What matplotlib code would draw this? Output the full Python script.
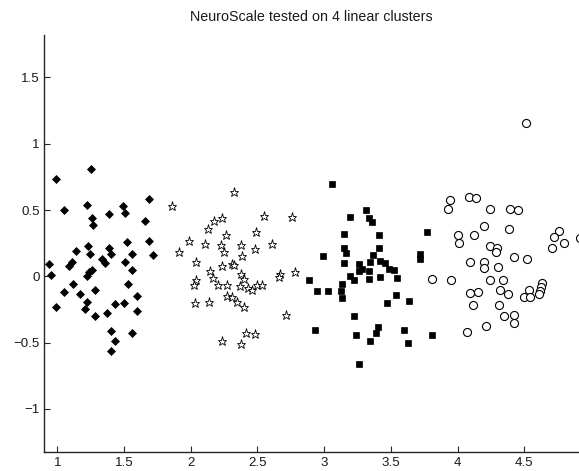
import matplotlib
matplotlib.use("Agg")
import matplotlib.pyplot as plt

plt.rcParams['font.family'] = ['Liberation Sans', 'DejaVu Sans']

title = "NeuroScale tested on 4 linear clusters"
x_ticks = [1, 1.5, 2, 2.5, 3, 3.5, 4, 4.5]
x_ticklabels = ["1", "1.5", "2", "2.5", "3", "3.5", "4", "4.5"]
y_ticks = [-1, -0.5, 0, 0.5, 1, 1.5]
y_ticklabels = ["\u22121", "\u22120.5", "0", "0.5", "1", "1.5"]

# Cluster 1: diamonds
diam_x = [0.99, 1.25, 1.05, 1.22, 1.26, 1.27, 1.385, 1.49, 1.51, 1.69, 1.655,
          0.935, 0.95, 0.99, 1.05, 1.115, 1.09, 1.11, 1.14, 1.17, 1.23, 1.245,
          1.22, 1.235, 1.26, 1.285, 1.22, 1.21, 1.28, 1.335, 1.355, 1.39, 1.40,
          1.37, 1.43, 1.40, 1.435, 1.405, 1.505, 1.525, 1.56, 1.56, 1.53, 1.50,
          1.60, 1.595, 1.56, 1.69, 1.715]
diam_y = [0.735, 0.81, 0.50, 0.54, 0.44, 0.39, 0.47, 0.53, 0.48, 0.58, 0.42,
          0.09, 0.01, -0.23, -0.12, -0.06, 0.075, 0.11, 0.19, -0.13, 0.225, 0.165,
          0.0, 0.03, 0.05, -0.10, -0.19, -0.25, -0.30, 0.13, 0.10, 0.21, 0.165,
          -0.28, -0.21, -0.41, -0.49, -0.56, 0.11, 0.26, 0.165, 0.05, -0.06, -0.20,
          -0.15, -0.26, -0.43, 0.265, 0.16]

# Cluster 2: pentagrams
star_x = [2.322, 1.86, 2.547, 2.76, 2.172, 2.234, 2.13, 2.49, 2.267, 1.99, 2.104,
          2.227, 2.247, 2.38, 2.484, 2.609, 1.914, 2.384, 2.042, 2.234, 2.309, 2.327,
          2.142, 2.38, 2.167, 2.042, 2.022, 2.202, 2.272, 2.397, 2.372, 2.427, 2.459,
          2.497, 2.534, 2.667, 2.659, 2.779, 2.272, 2.309, 2.347, 2.397, 2.034, 2.134,
          2.714, 2.417, 2.479, 2.234, 2.377]
star_y = [0.633, 0.53, 0.455, 0.45, 0.42, 0.438, 0.355, 0.338, 0.308, 0.267, 0.245,
          0.237, 0.18, 0.237, 0.207, 0.245, 0.182, 0.15, 0.105, 0.075, 0.092, 0.082,
          0.042, 0.02, -0.013, -0.025, -0.068, -0.063, -0.063, -0.018, -0.075, -0.088, -0.10,
          -0.068, -0.063, 0.02, -0.008, 0.032, -0.15, -0.158, -0.195, -0.233, -0.20, -0.193,
          -0.293, -0.426, -0.438, -0.488, -0.513]

# Cluster 3: squares
sq_x = [3.059, 3.196, 3.316, 3.339, 3.359, 3.151, 3.414, 3.771, 3.146, 3.166, 3.414,
        2.992, 3.366, 3.721, 3.721, 3.146, 3.259, 3.341, 3.421, 3.459, 3.284, 3.334,
        3.484, 3.526, 3.191, 3.221, 3.334, 3.421, 3.546, 2.884, 3.134, 2.947, 3.026,
        3.126, 3.134, 3.541, 3.471, 3.634, 3.221, 2.934, 3.401, 3.391, 3.241, 3.346,
        3.596, 3.626, 3.809, 3.259, 3.259]
sq_y = [0.70, 0.445, 0.50, 0.443, 0.413, 0.318, 0.313, 0.338, 0.217, 0.175, 0.217,
        0.155, 0.162, 0.167, 0.132, 0.10, 0.092, 0.107, 0.117, 0.10, 0.057, 0.037,
        0.057, 0.05, 0.0, -0.025, -0.018, -0.008, -0.013, -0.03, -0.058, -0.108, -0.108,
        -0.113, -0.163, -0.138, -0.20, -0.183, -0.30, -0.406, -0.381, -0.426, -0.443, -0.488,
        -0.408, -0.506, -0.446, -0.658, 0.037]

# Cluster 4: circles
circ_x = [4.516, 3.941, 3.926, 4.083, 4.141, 4.246, 4.396, 4.453, 4.201, 4.383, 4.003,
          4.008, 4.126, 4.758, 4.721, 4.796, 4.708, 4.920, 4.241, 4.296, 4.291, 4.421,
          4.521, 4.096, 4.196, 4.196, 4.301, 3.809, 3.954, 4.241, 4.341, 4.091, 4.151,
          4.321, 4.376, 4.533, 4.501, 4.546, 4.633, 4.626, 4.621, 4.608, 4.116, 4.313,
          4.351, 4.421, 4.421, 4.216, 4.071]
circ_y = [1.156, 0.576, 0.508, 0.601, 0.588, 0.508, 0.508, 0.498, 0.383, 0.358, 0.313,
          0.255, 0.313, 0.345, 0.30, 0.250, 0.213, 0.288, 0.230, 0.213, 0.180, 0.143,
          0.130, 0.105, 0.108, 0.063, 0.068, -0.020, -0.030, -0.030, -0.025, -0.125, -0.118,
          -0.105, -0.130, -0.105, -0.158, -0.155, -0.05, -0.082, -0.112, -0.132, -0.218, -0.218,
          -0.300, -0.295, -0.350, -0.375, -0.420]

fig = plt.figure(figsize=(5.79, 4.71), dpi=100)
ax = fig.add_axes([44 / 579, (471 - 452) / 471, 1 - 44 / 579, (452 - 35) / 471])

ax.plot(diam_x, diam_y, linestyle='none', marker='D', markersize=4.2,
        markerfacecolor='black', markeredgecolor='black', markeredgewidth=0.5)
ax.plot(star_x, star_y, linestyle='none', marker='*', markersize=6.5,
        markerfacecolor='white', markeredgecolor='black', markeredgewidth=0.6)
ax.plot(sq_x, sq_y, linestyle='none', marker='s', markersize=5,
        markerfacecolor='black', markeredgecolor='black', markeredgewidth=0.5)
ax.plot(circ_x, circ_y, linestyle='none', marker='o', markersize=5.8,
        markerfacecolor='white', markeredgecolor='black', markeredgewidth=0.8)

ax.set_xlim(0.9, 4.91)
ax.set_ylim(-1.325, 1.82)
ax.set_xticks(x_ticks)
ax.set_xticklabels(x_ticklabels)
ax.set_yticks(y_ticks)
ax.set_yticklabels(y_ticklabels)

for s in ['top', 'right']:
    ax.spines[s].set_visible(False)
for s in ['left', 'bottom']:
    ax.spines[s].set_color('#262626')
    ax.spines[s].set_linewidth(1.0)

ax.tick_params(direction='in', length=4, width=0.8, colors='#262626',
               labelsize=9.6, labelcolor='#1a1a1a')
ax.tick_params(axis='x', pad=3.5)
ax.tick_params(axis='y', pad=3)
ax.set_title(title, fontsize=10.3, pad=10, color='#1a1a1a')

fig.savefig('out.png', dpi=100)
